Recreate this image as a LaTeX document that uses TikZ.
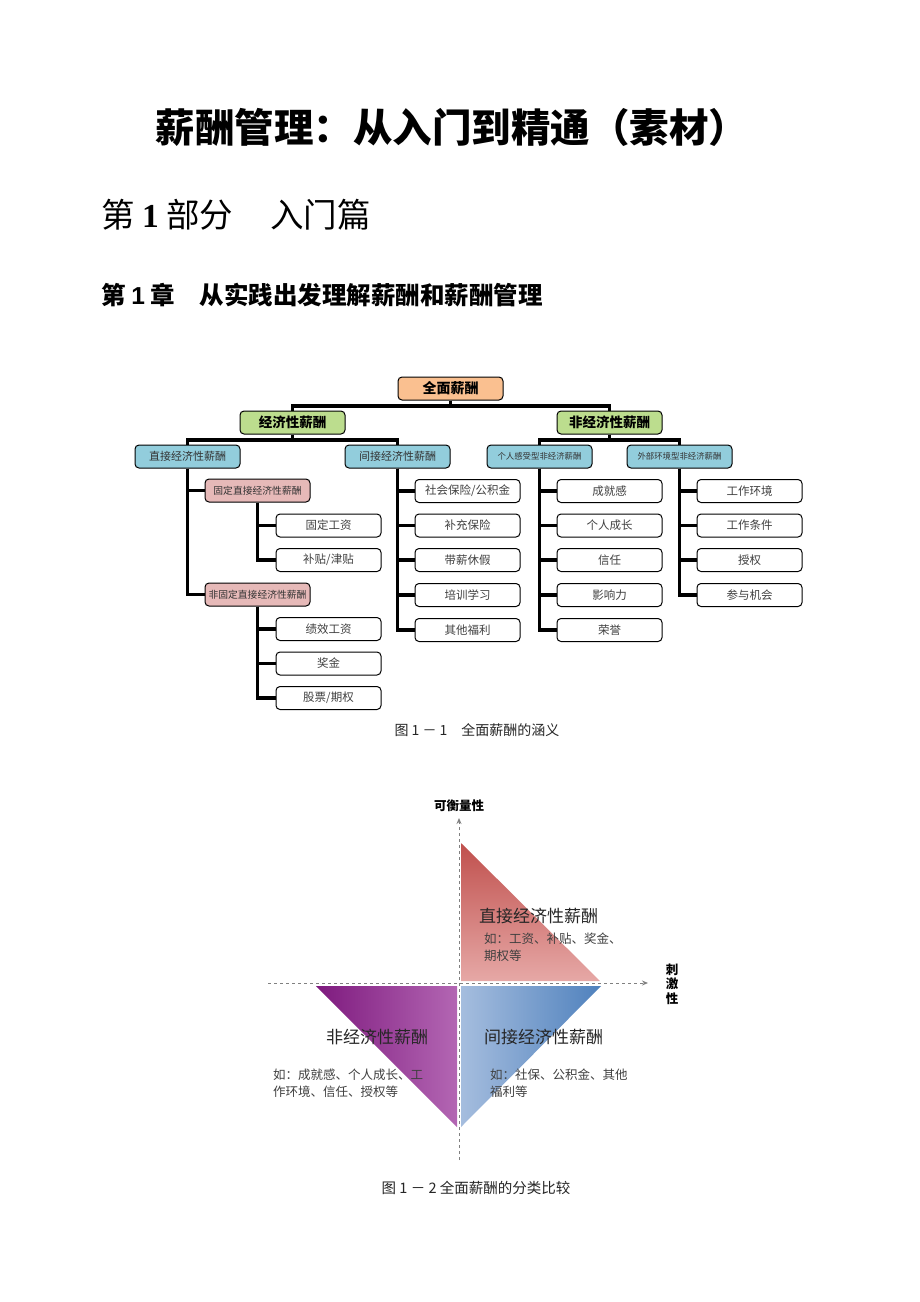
\documentclass[tikz,border=0pt]{standalone}
\usepackage{fontspec}
\setmainfont{Noto Sans CJK SC}
\newfontfamily\tnr{Liberation Serif}
\newfontfamily\arl{Liberation Sans}
\usetikzlibrary{arrows.meta}
\definecolor{orangeF}{HTML}{FAC090}
\definecolor{greenF}{HTML}{BCDD8E}
\definecolor{blueF}{HTML}{92CDDC}
\definecolor{pinkF}{HTML}{E6B9B8}
\definecolor{redTop}{HTML}{C0504D}
\definecolor{redBot}{HTML}{E6A8A6}
\definecolor{purL}{HTML}{7E1A7E}
\definecolor{purR}{HTML}{B366B3}
\definecolor{bluL}{HTML}{A5BDDE}
\definecolor{bluR}{HTML}{4F81BD}
\newcommand{\fs}[1]{\fontsize{#1}{#1}\selectfont}
\tikzset{
  box/.style={draw=black, line width=1pt, rounded corners=4pt, minimum width=105pt,
    minimum height=23pt, inner sep=0pt, text=black!75, font=\fs{11.5}},
  lvlzero/.style={box, fill=orangeF, text=black, font=\bfseries\fs{14}},
  lvlone/.style={box, fill=greenF, text=black, font=\bfseries\fs{13.5}},
  lvltwo/.style={box, fill=blueF, text=black!80, font=\fs{11}},
  lvltwos/.style={box, fill=blueF, text=black!80, font=\fs{8.4}},
  lvlthree/.style={box, fill=pinkF, text=black!80, font=\fs{9.8}},
  leaf/.style={box, fill=white},
  conn/.style={line width=3.5pt, black},
  axis/.style={draw=black!50, line width=1pt, dashed, -{Stealth[length=6pt,width=5pt]}},
  big/.style={anchor=west, inner sep=0pt, text=black!85, font=\fs{17}},
  small/.style={anchor=north west, inner sep=0pt, align=left, text=black!75, font=\fontsize{12.5}{17}\selectfont},
}
\begin{document}
\begin{tikzpicture}[x=1pt,y=-1pt]
\useasboundingbox[fill=white] (0,0) rectangle (920,1302);

% headings
\node[inner sep=0pt, font=\bfseries\fs{39.5}] (title) at (452,127) {薪酬管理：从入门到精通（素材）};
\node[anchor=west, inner sep=0pt, font=\fs{33.5}] (part) at (101,215) {第 {\tnr\bfseries 1} 部分\hspace{1.1em}入门篇};
\node[anchor=west, inner sep=0pt, font=\bfseries\fs{24.5}] (chap) at (101,295) {第 {\arl\bfseries 1} 章\hspace{1em}从实践出发理解薪酬和薪酬管理};

% tree
\node[lvlzero] (qm) at (450.5,388.5) {全面薪酬};
\node[lvlone] (jj) at (292.5,422.5) {经济性薪酬};
\node[lvlone] (fjj) at (609.5,422.5) {非经济性薪酬};
\node[lvltwo] (zj) at (187.5,456.5) {直接经济性薪酬};
\node[lvltwo] (jjj) at (397.5,456.5) {间接经济性薪酬};
\node[lvltwos] (gr) at (539.5,456.5) {个人感受型非经济薪酬};
\node[lvltwos] (wb) at (679.5,456.5) {外部环境型非经济薪酬};
\node[lvlthree] (gd) at (257.5,490.5) {固定直接经济性薪酬};
\node[lvlthree] (fgd) at (257.5,594.5) {非固定直接经济性薪酬};

\node[leaf] (a1) at (328.5,525.5) {固定工资};
\node[leaf] (a2) at (328.5,560) {补贴/津贴};
\node[leaf] (b1) at (328.5,629) {绩效工资};
\node[leaf] (b2) at (328.5,663.5) {奖金};
\node[leaf] (b3) at (328.5,698) {股票/期权};

\node[leaf] (c1) at (467.5,491) {社会保险/公积金};
\node[leaf] (c2) at (467.5,525.5) {补充保险};
\node[leaf] (c3) at (467.5,560) {带薪休假};
\node[leaf] (c4) at (467.5,595) {培训学习};
\node[leaf] (c5) at (467.5,630) {其他福利};

\node[leaf] (d1) at (609.5,491) {成就感};
\node[leaf] (d2) at (609.5,525.5) {个人成长};
\node[leaf] (d3) at (609.5,560) {信任};
\node[leaf] (d4) at (609.5,595) {影响力};
\node[leaf] (d5) at (609.5,630) {荣誉};

\node[leaf] (e1) at (749.5,491) {工作环境};
\node[leaf] (e2) at (749.5,525.5) {工作条件};
\node[leaf] (e3) at (749.5,560) {授权};
\node[leaf] (e4) at (749.5,595) {参与机会};

\draw[conn] (qm.south) -- ++(0,5.5) -| (jj.north);
\draw[conn] (qm.south) -- ++(0,5.5) -| (fjj.north);
\draw[conn] (jj.south) -- ++(0,5.5) -| (zj.north);
\draw[conn] (jj.south) -- ++(0,5.5) -| (jjj.north);
\draw[conn] (fjj.south) -- ++(0,5.5) -| (gr.north);
\draw[conn] (fjj.south) -- ++(0,5.5) -| (wb.north);
\foreach \c in {gd,fgd} \draw[conn] (zj.south) |- (\c.west);
\foreach \c in {a1,a2} \draw[conn] (gd.south) |- (\c.west);
\foreach \c in {b1,b2,b3} \draw[conn] (fgd.south) |- (\c.west);
\foreach \c in {c1,c2,c3,c4,c5} \draw[conn] (jjj.south) |- (\c.west);
\foreach \c in {d1,d2,d3,d4,d5} \draw[conn] (gr.south) |- (\c.west);
\foreach \c in {e1,e2,e3,e4} \draw[conn] (wb.south) |- (\c.west);

\node[inner sep=0pt, font=\fs{14}, text=black!85] (cap1) at (477,730) {图 1 － 1\hspace{1em}全面薪酬的涵义};

% quadrant chart
\shade[top color=redTop, bottom color=redBot] (461,843) -- (461,981) -- (600,981) -- cycle;
\shade[left color=purL, right color=purR] (316,986) -- (457,986) -- (457,1127) -- cycle;
\shade[left color=bluL, right color=bluR] (461,986) -- (601,986) -- (461,1127) -- cycle;

\coordinate (vb) at (459,1160);
\coordinate (vt) at (459,818);
\coordinate (hl) at (268,983);
\coordinate (hr) at (648,983);
\draw[axis] (vb) -- (vt);
\draw[axis] (hl) -- (hr);

\node[inner sep=0pt, font=\bfseries\fs{12.5}] (ylab) at (459,806) {可衡量性};
\node[inner sep=0pt, align=center, font=\bfseries\fontsize{12.5}{14.5}\selectfont] (xlab) at (672,984) {刺\\激\\性};

\node[big] (t1) at (479,916) {直接经济性薪酬};
\node[small] (s1) at (484,933) {如：工资、补贴、奖金、\\期权等};
\node[big] (t2) at (326,1037) {非经济性薪酬};
\node[small] (s2) at (273,1069) {如：成就感、个人成长、工\\作环境、信任、授权等};
\node[big] (t3) at (484,1037) {间接经济性薪酬};
\node[small] (s3) at (490,1069) {如：社保、公积金、其他\\福利等};

\node[inner sep=0pt, font=\fs{14.5}, text=black!85] (cap2) at (476,1188) {图 1 － 2 全面薪酬的分类比较};
\end{tikzpicture}
\end{document}
